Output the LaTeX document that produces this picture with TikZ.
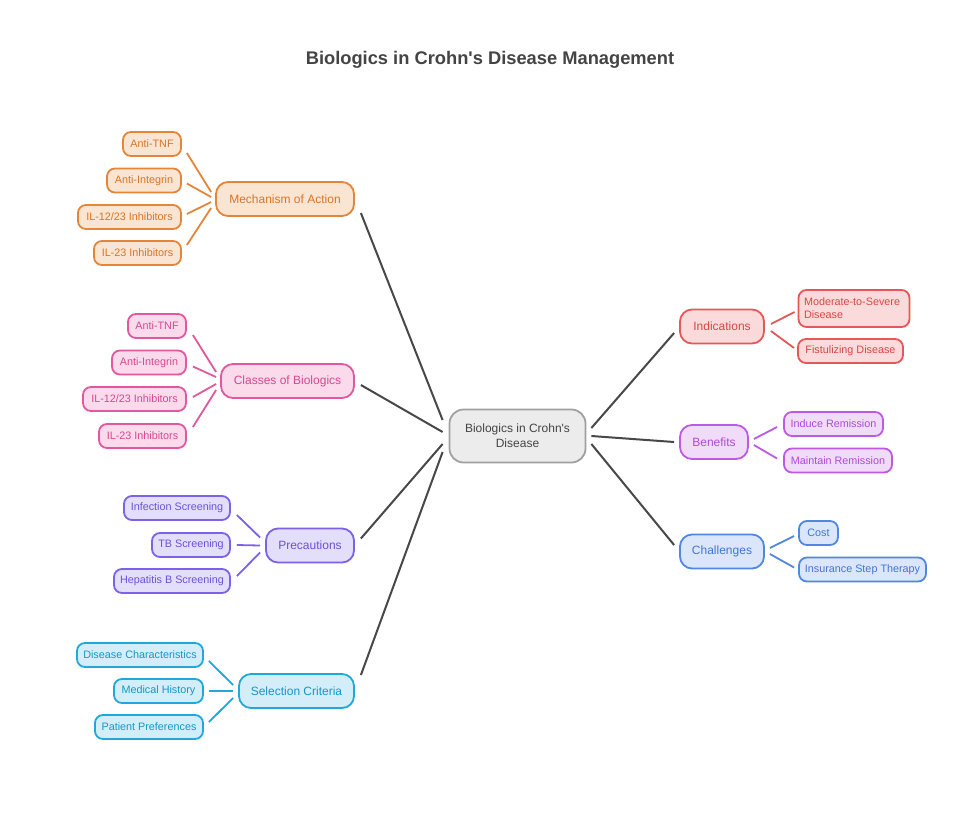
\documentclass[tikz,border=0pt]{standalone}
\usepackage{fontspec}
\setmainfont{Liberation Sans}[Ligatures=TeXOff]
\usetikzlibrary{calc}
\definecolor{orS}{RGB}{228,134,58}\definecolor{orF}{RGB}{250,228,210}\definecolor{orT}{RGB}{214,118,42}
\definecolor{pkS}{RGB}{226,88,160}\definecolor{pkF}{RGB}{250,218,235}\definecolor{pkT}{RGB}{214,72,146}
\definecolor{puS}{RGB}{124,98,230}\definecolor{puF}{RGB}{227,222,250}\definecolor{puT}{RGB}{108,82,214}
\definecolor{cyS}{RGB}{32,168,218}\definecolor{cyF}{RGB}{211,238,248}\definecolor{cyT}{RGB}{22,150,200}
\definecolor{rdS}{RGB}{228,88,88}\definecolor{rdF}{RGB}{250,218,218}\definecolor{rdT}{RGB}{214,72,72}
\definecolor{viS}{RGB}{188,90,230}\definecolor{viF}{RGB}{240,220,248}\definecolor{viT}{RGB}{172,74,214}
\definecolor{blS}{RGB}{80,135,225}\definecolor{blF}{RGB}{219,230,250}\definecolor{blT}{RGB}{64,118,210}
\definecolor{gyS}{RGB}{160,160,160}\definecolor{gyF}{RGB}{236,236,236}\definecolor{gyT}{RGB}{68,68,68}
\definecolor{mainL}{RGB}{72,72,72}
\tikzset{
  base/.style={draw, line width=1.8pt, inner sep=0pt, align=center},
  parbox/.style={base, rounded corners=12pt, minimum height=34pt, font=\fontsize{12}{14}\selectfont},
  kidbox/.style={base, rounded corners=8pt, minimum height=24pt, font=\fontsize{10.8}{12.5}\selectfont},
  grpor/.style={draw=orS, fill=orF, text=orT},
  grppk/.style={draw=pkS, fill=pkF, text=pkT},
  grppu/.style={draw=puS, fill=puF, text=puT},
  grpcy/.style={draw=cyS, fill=cyF, text=cyT},
  grprd/.style={draw=rdS, fill=rdF, text=rdT},
  grpvi/.style={draw=viS, fill=viF, text=viT},
  grpbl/.style={draw=blS, fill=blF, text=blT},
  lnor/.style={draw=orS, line width=1.8pt},
  lnpk/.style={draw=pkS, line width=1.8pt},
  lnpu/.style={draw=puS, line width=1.8pt},
  lncy/.style={draw=cyS, line width=1.8pt},
  lnrd/.style={draw=rdS, line width=1.8pt},
  lnvi/.style={draw=viS, line width=1.8pt},
  lnbl/.style={draw=blS, line width=1.8pt},
  mainln/.style={draw=mainL, line width=2pt}
}
\begin{document}
\begin{tikzpicture}[x=1pt,y=-1pt]
\fill[white] (0,0) rectangle (980,825);
\useasboundingbox (0,0) rectangle (980,825);

\node[font=\bfseries\fontsize{18.3}{22}\selectfont, text=gyT] (title) at (490,60) {Biologics in Crohn's Disease Management};

% central
\node[base, rounded corners=14pt, draw=gyS, fill=gyF, text=gyT, minimum width=136pt, minimum height=53pt, font=\fontsize{12}{15}\selectfont] (c) at (517.5,436) {Biologics in Crohn's\\Disease};

% Mechanism of Action
\node[parbox, grpor, minimum width=138pt] (m) at (285,199) {Mechanism of Action};
\node[kidbox, grpor, minimum width=58pt] (m1) at (152,144) {Anti-TNF};
\node[kidbox, grpor, minimum width=74pt] (m2) at (144,180.5) {Anti-Integrin};
\node[kidbox, grpor, minimum width=103pt] (m3) at (129.5,217) {IL-12/23 Inhibitors};
\node[kidbox, grpor, minimum width=87pt] (m4) at (137.5,253) {IL-23 Inhibitors};
\draw[lnor] ([shift={(5,9)}]m1.east) -- ([shift={(-4,-7)}]m.west);
\draw[lnor] ([shift={(5,3)}]m2.east) -- ([shift={(-4,-2)}]m.west);
\draw[lnor] ([shift={(5,-3)}]m3.east) -- ([shift={(-4,3)}]m.west);
\draw[lnor] ([shift={(5,-8)}]m4.east) -- ([shift={(-4,9)}]m.west);

% Classes of Biologics
\node[parbox, grppk, minimum width=133pt] (k) at (287.5,381) {Classes of Biologics};
\node[kidbox, grppk, minimum width=58pt] (k1) at (157,326) {Anti-TNF};
\node[kidbox, grppk, minimum width=74pt] (k2) at (149,362.5) {Anti-Integrin};
\node[kidbox, grppk, minimum width=103pt] (k3) at (134.5,399) {IL-12/23 Inhibitors};
\node[kidbox, grppk, minimum width=87pt] (k4) at (142.5,436) {IL-23 Inhibitors};
\draw[lnpk] ([shift={(6,9)}]k1.east) -- ([shift={(-4,-9)}]k.west);
\draw[lnpk] ([shift={(6,4)}]k2.east) -- ([shift={(-4,-4)}]k.west);
\draw[lnpk] ([shift={(6,-2)}]k3.east) -- ([shift={(-4,3)}]k.west);
\draw[lnpk] ([shift={(6,-9)}]k4.east) -- ([shift={(-4,9)}]k.west);

% Precautions
\node[parbox, grppu, minimum width=88pt] (p) at (310,545.5) {Precautions};
\node[kidbox, grppu, minimum width=106pt] (p1) at (177,508) {Infection Screening};
\node[kidbox, grppu, minimum width=78pt] (p2) at (191,545) {TB Screening};
\node[kidbox, grppu, minimum width=116pt] (p3) at (172,581) {Hepatitis B Screening};
\draw[lnpu] ([shift={(6,7)}]p1.east) -- ([shift={(-5,-8)}]p.west);
\draw[lnpu] ([shift={(6,0)}]p2.east) -- ([shift={(-5,0)}]p.west);
\draw[lnpu] ([shift={(6,-5)}]p3.east) -- ([shift={(-5,7)}]p.west);

% Selection Criteria
\node[parbox, grpcy, minimum width=115pt] (s) at (296.5,691) {Selection Criteria};
\node[kidbox, grpcy, minimum width=126pt] (s1) at (140,655) {Disease Characteristics};
\node[kidbox, grpcy, minimum width=89pt] (s2) at (158.5,691) {Medical History};
\node[kidbox, grpcy, minimum width=108pt] (s3) at (149,727) {Patient Preferences};
\draw[lncy] ([shift={(5,6)}]s1.east) -- ([shift={(-5,-6)}]s.west);
\draw[lncy] ([shift={(5,0)}]s2.east) -- ([shift={(-5,0)}]s.west);
\draw[lncy] ([shift={(5,-5)}]s3.east) -- ([shift={(-5,7)}]s.west);

% Indications
\node[parbox, grprd, minimum width=84pt] (i) at (722,326.5) {Indications};
\node[kidbox, grprd, minimum width=111pt, minimum height=37pt, align=left, text width=100pt, font=\fontsize{10.8}{13}\selectfont] (i1) at (854,308.5) {Moderate-to-Severe\\Disease};
\node[kidbox, grprd, minimum width=105pt] (i2) at (850.5,351) {Fistulizing Disease};
\draw[lnrd] ([shift={(6,-2.5)}]i.east) -- ([shift={(-3,3.5)}]i1.west);
\draw[lnrd] ([shift={(6,4.5)}]i.east) -- ([shift={(-3,-3)}]i2.west);

% Benefits
\node[parbox, grpvi, minimum width=68pt] (b) at (714,442) {Benefits};
\node[kidbox, grpvi, minimum width=99pt] (b1) at (833.5,424) {Induce Remission};
\node[kidbox, grpvi, minimum width=108pt] (b2) at (838,460.5) {Maintain Remission};
\draw[lnvi] ([shift={(5,-3)}]b.east) -- ([shift={(-6,3)}]b1.west);
\draw[lnvi] ([shift={(5,3)}]b.east) -- ([shift={(-6,-2)}]b2.west);

% Challenges
\node[parbox, grpbl, minimum width=84pt] (h) at (722,551.5) {Challenges};
\node[kidbox, grpbl, minimum width=39pt] (h1) at (818.5,533) {Cost};
\node[kidbox, grpbl, minimum width=127pt] (h2) at (862.5,569.5) {Insurance Step Therapy};
\draw[lnbl] ([shift={(5,-3.5)}]h.east) -- ([shift={(-4,3)}]h1.west);
\draw[lnbl] ([shift={(5,2.5)}]h.east) -- ([shift={(-4,-2)}]h2.west);

% main connectors
\draw[mainln] ([shift={(6,14)}]m.east) -- ([shift={(-6,-16)}]c.west);
\draw[mainln] ([shift={(6,4)}]k.east) -- ([shift={(-6,-4)}]c.west);
\draw[mainln] ([shift={(6,-7)}]p.east) -- ([shift={(-6,8)}]c.west);
\draw[mainln] ([shift={(6,-16)}]s.east) -- ([shift={(-6,16)}]c.west);
\draw[mainln] ([shift={(5,-8)}]c.east) -- ([shift={(-5,6.5)}]i.west);
\draw[mainln] ([shift={(5,0)}]c.east) -- ([shift={(-5,0)}]b.west);
\draw[mainln] ([shift={(5,8)}]c.east) -- ([shift={(-5,-6.5)}]h.west);
\end{tikzpicture}
\end{document}
